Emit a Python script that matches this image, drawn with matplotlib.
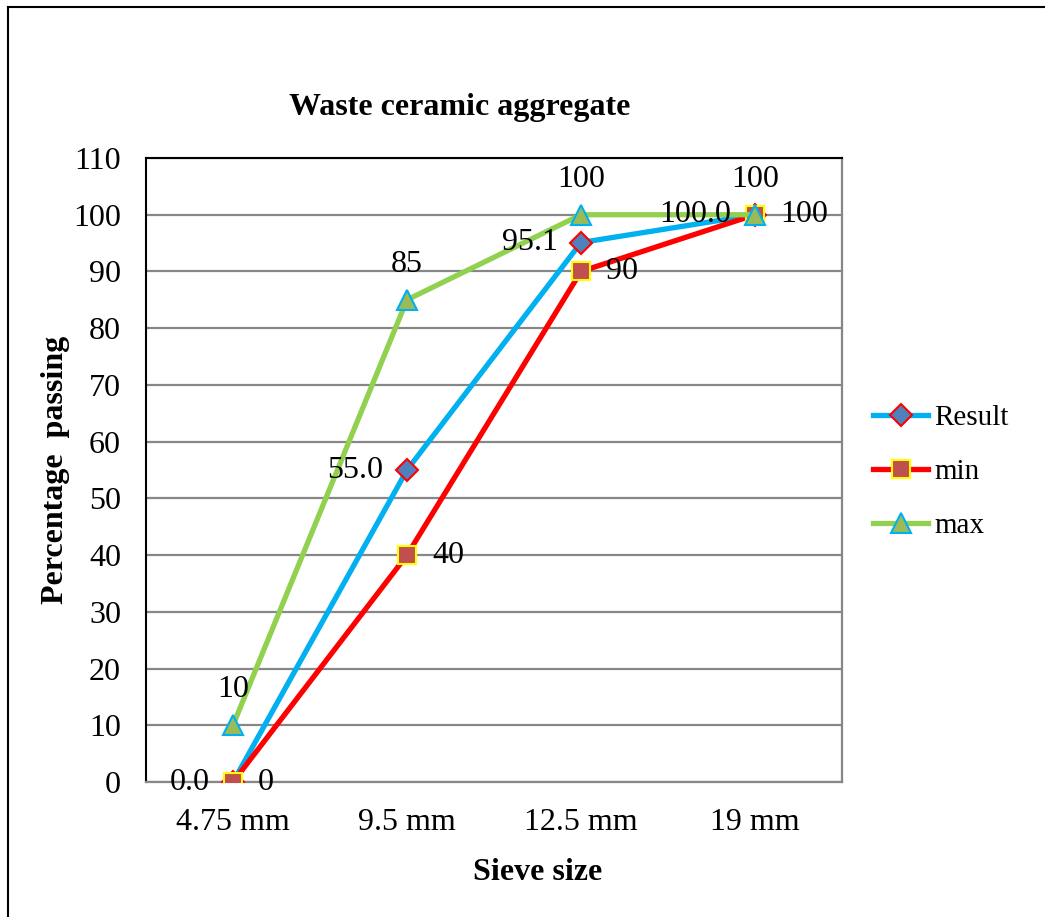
import matplotlib.pyplot as plt
from matplotlib.lines import Line2D

sieve = ["4.75 mm", "9.5 mm", "12.5 mm", "19 mm"]
result = [0.0, 55.0, 95.1, 100.0]
min_lim = [0, 40, 90, 100]
max_lim = [10, 85, 100, 100]

plt.rcParams['font.family'] = ['Liberation Serif', 'DejaVu Serif']

W, H = 1045, 917
fig = plt.figure(figsize=(W / 100, H / 100), dpi=100)
ax = fig.add_axes([146 / W, 1 - 782 / H, (842 - 146) / W, (782 - 158) / H])

x = list(range(len(sieve)))

# series
ax.plot(x, result, color='#00B0F0', lw=3.8, marker='D', ms=11,
        mfc='#4F81BD', mec='#FF0000', mew=1.5, label='Result', zorder=3)
ax.plot(x, min_lim, color='#FF0000', lw=3.8, marker='s', ms=13.5,
        mfc='#C0504D', mec='#FFFF00', mew=1.5, label='min', zorder=4)
ax.plot(x, max_lim, color='#92D050', lw=3.8, marker='^', ms=15,
        mfc='#9BBB59', mec='#00B0F0', mew=1.5, label='max', zorder=5)

# data labels
fs = 23
for xi, v in zip(x, result):
    ax.annotate(f"{v:.1f}", (xi, v), xytext=(-17, 0), textcoords='offset points',
                ha='right', va='center', fontsize=fs, zorder=6)
for xi, v in zip(x, min_lim):
    ax.annotate(f"{v}", (xi, v), xytext=(18, 0), textcoords='offset points',
                ha='left', va='center', fontsize=fs, zorder=6)
for xi, v in zip(x, max_lim):
    ax.annotate(f"{v}", (xi, v), xytext=(0, 20), textcoords='offset points',
                ha='center', va='baseline', fontsize=fs, zorder=6)

ax.set_xlim(-0.5, len(sieve) - 0.5)
ax.set_ylim(0, 110)
ax.set_yticks(range(0, 111, 10))
ax.set_xticks(x)
ax.set_xticklabels(sieve)
ax.tick_params(axis='both', length=0, labelsize=fs)
ax.tick_params(axis='y', pad=18)
ax.tick_params(axis='x', pad=19)

ax.grid(axis='y', color='#878787', lw=1.6)
ax.set_axisbelow(True)
for s in ['left', 'top']:
    ax.spines[s].set_color('black')
    ax.spines[s].set_linewidth(1.5)
for s in ['right', 'bottom']:
    ax.spines[s].set_color('#878787')
    ax.spines[s].set_linewidth(1.6)

fig.text(460 / W, 1 - 108 / H, "Waste ceramic aggregate", fontsize=fs,
         fontweight='bold', ha='center', va='center')
fig.text(55 / W, 1 - 470 / H, "Percentage  passing", fontsize=fs,
         fontweight='bold', ha='center', va='center', rotation=90)
fig.text(538 / W, 1 - 872 / H, "Sieve size", fontsize=fs,
         fontweight='bold', ha='center', va='center')

ax.legend(loc='center left', bbox_to_anchor=(873 / W, 1 - 472 / H),
          bbox_transform=fig.transFigure, frameon=False, fontsize=21,
          handlelength=1.9, handletextpad=0.2, labelspacing=0.95,
          borderpad=0, borderaxespad=0)

# outer chart border (top and left visible)
fig.add_artist(Line2D([8 / W, 8 / W], [0, 1 - 7 / H], color='black', lw=1.5,
                      transform=fig.transFigure))
fig.add_artist(Line2D([8 / W, 1], [1 - 7 / H, 1 - 7 / H], color='black', lw=1.5,
                      transform=fig.transFigure))

fig.savefig("out.png", dpi=100)
